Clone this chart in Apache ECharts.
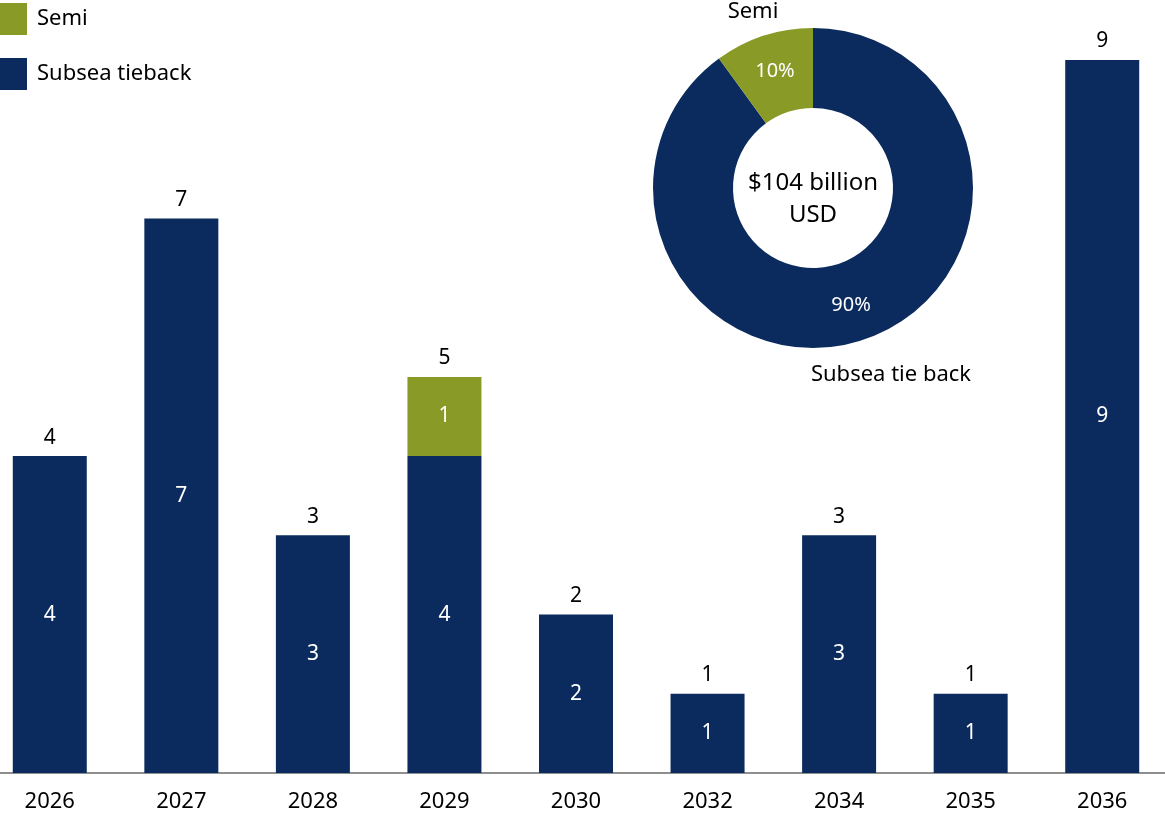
<!DOCTYPE html>
<html lang="en" style="height: 100%">
<head>
  <meta charset="utf-8">
</head>
<body style="height: 100%; margin: 0; background: #fff; overflow: hidden; position: relative">
  <!-- shifted 16px left so the first and last bar sit where the reference puts them -->
  <div id="container" style="position: absolute; left: -16px; top: 0; width: 1200px; height: 813px"></div>

  <script type="text/javascript" src="https://cdn.jsdelivr.net/npm/echarts@6.0.0/dist/echarts.min.js"></script>

  <script type="text/javascript">
    const years = ['2026', '2027', '2028', '2029', '2030', '2032', '2034', '2035', '2036'];
    const subseaTieback = [4, 7, 3, 4, 2, 1, 3, 1, 9];
    const semi = [null, null, null, 1, null, null, null, null, null];
    const totals = [4, 7, 3, 5, 2, 1, 3, 1, 9];
    const shareNames = ['Subsea tie back', 'Semi'];
    const shareValues = [90, 10];

    const navy = '#0b2b5e';
    const olive = '#8a9a26';
    const font = '"Noto Sans", sans-serif';
    const offX = 16;

    var dom = document.getElementById('container');
    var myChart = echarts.init(dom, null, { renderer: 'canvas' });

    var option = {
      animation: false,
      textStyle: { fontFamily: font },
      legend: {
        orient: 'vertical',
        left: offX,
        top: 3,
        padding: 0,
        itemWidth: 27,
        itemHeight: 32,
        itemGap: 23,
        icon: 'rect',
        data: ['Semi', 'Subsea tieback'],
        textStyle: { fontSize: 22, color: '#000', padding: [5, 0, 0, 5], fontFamily: font }
      },
      grid: { left: 0, width: 1184, top: 60, bottom: 40 },
      xAxis: {
        type: 'category',
        data: years,
        axisTick: { show: false },
        axisLine: { lineStyle: { color: '#6b6b6b', width: 1.5 } },
        axisLabel: { fontSize: 22, color: '#000', margin: 18, fontFamily: font }
      },
      yAxis: { type: 'value', min: 0, max: 9, show: false, splitLine: { show: false } },
      series: [
        {
          name: 'Subsea tieback',
          type: 'bar',
          stack: 'total',
          barWidth: 74,
          data: subseaTieback,
          itemStyle: { color: navy },
          label: { show: true, position: 'inside', color: '#fff', fontSize: 21, fontFamily: font }
        },
        {
          name: 'Semi',
          type: 'bar',
          stack: 'total',
          barWidth: 74,
          data: semi,
          itemStyle: { color: olive },
          label: { show: true, position: 'inside', color: '#fff', fontSize: 21, fontFamily: font }
        },
        {
          name: 'Total',
          type: 'bar',
          barWidth: 74,
          barGap: '-100%',
          data: totals,
          silent: true,
          z: 1,
          itemStyle: { color: 'rgba(0,0,0,0)' },
          label: { show: true, position: 'top', distance: 8, color: '#000', fontSize: 21, fontFamily: font }
        },
        {
          type: 'pie',
          center: [813 + offX, 188],
          radius: [80, 160],
          startAngle: 90,
          clockwise: true,
          silent: true,
          data: shareNames.map(function (n, i) {
            return { name: n, value: shareValues[i], itemStyle: { color: i === 0 ? navy : olive } };
          }),
          label: {
            show: true,
            position: 'inside',
            formatter: '{c}%',
            color: '#fff',
            fontSize: 20,
            fontFamily: font
          },
          labelLine: { show: false }
        }
      ],
      graphic: {
        elements: [
          {
            type: 'text',
            x: 813 + offX,
            y: 199,
            style: {
              text: '$104 billion\nUSD',
              fill: '#000',
              font: '24px "Noto Sans", sans-serif',
              align: 'center',
              verticalAlign: 'middle',
              lineHeight: 32
            }
          },
          {
            type: 'text',
            x: 753 + offX,
            y: 12,
            style: {
              text: 'Semi',
              fill: '#000',
              font: '22px "Noto Sans", sans-serif',
              align: 'center',
              verticalAlign: 'middle'
            }
          },
          {
            type: 'text',
            x: 891 + offX,
            y: 375,
            style: {
              text: 'Subsea tie back',
              fill: '#000',
              font: '22px "Noto Sans", sans-serif',
              align: 'center',
              verticalAlign: 'middle'
            }
          }
        ]
      }
    };

    myChart.setOption(option);
    window.addEventListener('resize', myChart.resize);
  </script>
</body>
</html>
